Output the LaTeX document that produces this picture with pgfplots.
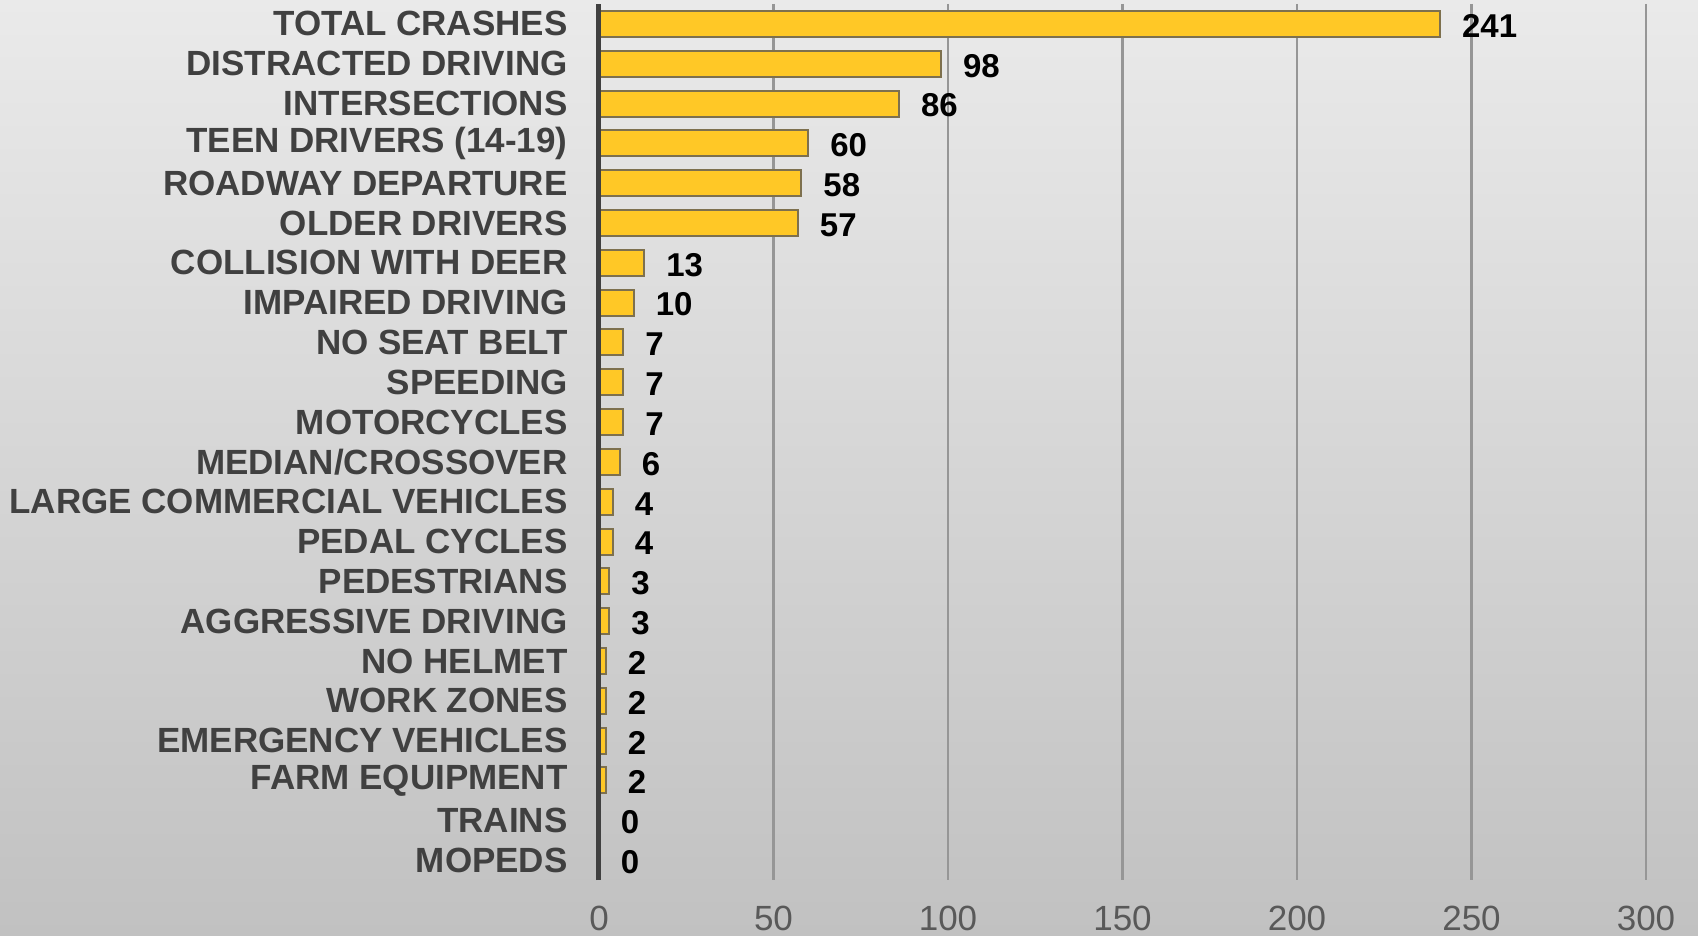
\documentclass[border=0pt]{standalone}
\usepackage{pgfplots}
\pgfplotsset{compat=1.18}
\usepackage{fontspec}
\setmainfont{Liberation Sans}

\definecolor{barfill}{RGB}{255,200,38}
\definecolor{bardraw}{RGB}{125,112,78}
\definecolor{labgray}{RGB}{64,64,64}
\definecolor{tickgray}{RGB}{89,89,89}
\definecolor{gridgray}{RGB}{150,150,150}

\begin{document}
\begin{tikzpicture}
	% slide background (1px = 0.5pt, axis box from x=599 to 1646, y=4 to 880)
	\shade[top color={rgb,255:red,234;green,234;blue,234}, bottom color={rgb,255:red,193;green,193;blue,193}]
		(-299.5pt,-28pt) rectangle (549.5pt,440pt);
	\begin{axis}[
			at={(0,0)}, anchor=south west,
			scale only axis,
			width=523.5pt,
			height=438pt,
			clip=false,
			xbar,
			bar width=13pt,
			xmin=0, xmax=300,
			ymin=-0.5, ymax=21.5,
			y dir=reverse,
			xtick={0,50,...,300},
			ytick=data,
			yticklabels={
				TOTAL CRASHES,
				DISTRACTED DRIVING,
				INTERSECTIONS,
				TEEN DRIVERS (14-19),
				ROADWAY DEPARTURE,
				OLDER DRIVERS,
				COLLISION WITH DEER,
				IMPAIRED DRIVING,
				NO SEAT BELT,
				SPEEDING,
				MOTORCYCLES,
				MEDIAN/CROSSOVER,
				LARGE COMMERCIAL VEHICLES,
				PEDAL CYCLES,
				PEDESTRIANS,
				AGGRESSIVE DRIVING,
				NO HELMET,
				WORK ZONES,
				EMERGENCY VEHICLES,
				FARM EQUIPMENT,
				TRAINS,
				MOPEDS
			},
			axis lines*=left,
			axis line style={draw=none},
			major tick length=0pt,
			tick style={draw=none},
			xmajorgrids,
			grid style={gridgray, line width=1.2pt},
			/pgf/number format/assume math mode=true,
			xticklabel style={
				font=\fontsize{17.5}{20}\selectfont,
				text=tickgray, inner sep=0pt, anchor=north, yshift=-13pt
			},
			yticklabel style={
				font=\fontsize{17.5}{20}\selectfont\bfseries,
				text=labgray, inner sep=0pt, anchor=east, xshift=-15.5pt
			},
			nodes near coords,
			every node near coord/.append style={
				font=\fontsize{16.5}{20}\selectfont\bfseries,
				text=black, inner sep=0pt, anchor=west, xshift=10.5pt, yshift=-1pt
			},
		]
		\addplot[fill=barfill, draw=bardraw, line width=1pt] table {
			X Y
			241 0
			98 1
			86 2
			60 3
			58 4
			57 5
			13 6
			10 7
			7 8
			7 9
			7 10
			6 11
			4 12
			4 13
			3 14
			3 15
			2 16
			2 17
			2 18
			2 19
			0 20
			0 21
		};
		\draw[labgray, line width=2.5pt] (rel axis cs:0,0) -- (rel axis cs:0,1);
	\end{axis}
	\pgfresetboundingbox
	\path[use as bounding box] (-299.5pt,-28pt) rectangle (549.5pt,440pt);
\end{tikzpicture}
\end{document}
